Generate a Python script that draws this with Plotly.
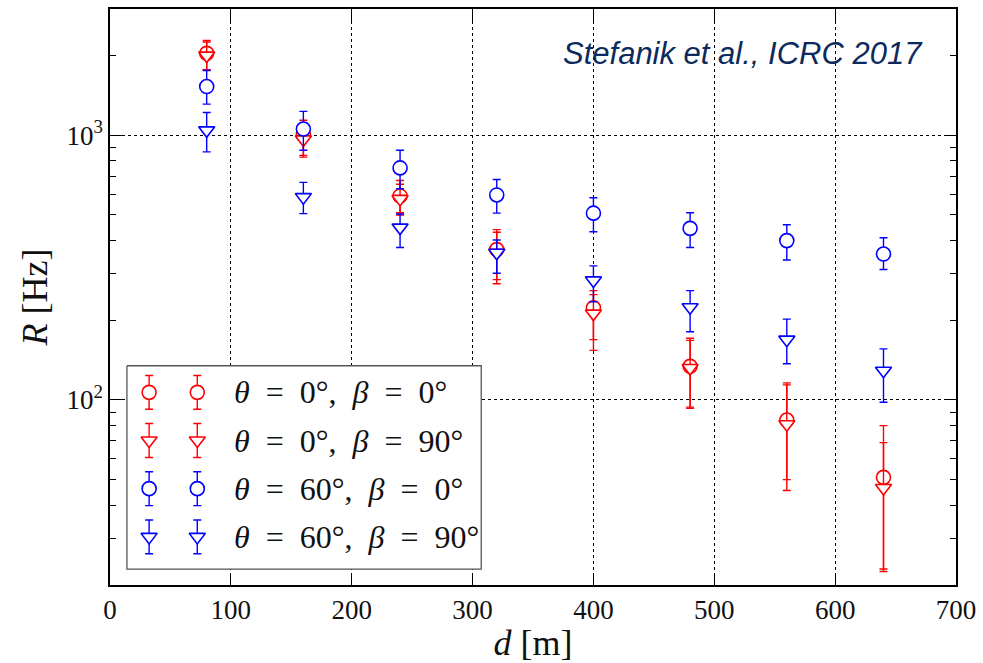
import numpy as np
import plotly.graph_objects as go

# ---------------- data ----------------
distance = [80, 160, 240, 320, 400, 480, 560, 640]

r_t0_b0 = [2040, 1005, 590, 370, 223, 134, 84, 51]
r_t0_b0_hi = [2280, 1140, 675, 440, 259, 171, 116, 80]
r_t0_b0_lo = [1770, 840, 510, 285, 169, 94, 50, 22.5]

r_t0_b90 = [2000, 965, 575, 360, 212, 132, 81, 46.5]
r_t0_b90_hi = [2250, 1110, 653, 430, 250, 168, 114, 69]
r_t0_b90_lo = [1760, 827, 500, 275, 154, 93, 45.5, 23]

r_t60_b0 = [1528, 1056, 753, 595, 508, 445, 400, 356]
r_t60_b0_hi = [1756, 1231, 878, 681, 581, 510, 459, 410]
r_t60_b0_lo = [1311, 878, 628, 508, 432, 377, 338, 311]

r_t60_b90 = [1044, 584, 448, 360, 283, 224, 169, 129]
r_t60_b90_hi = [1220, 664, 504, 402, 321, 259, 202, 156]
r_t60_b90_lo = [866, 506, 377, 301, 235, 181, 137, 98]

NB = "\u00a0"
series_labels = [
    f"<i>θ</i>{NB}{NB}={NB}{NB}0°,{NB}{NB}<i>β</i>{NB}{NB}={NB}{NB}0°",
    f"<i>θ</i>{NB}{NB}={NB}{NB}0°,{NB}{NB}<i>β</i>{NB}{NB}={NB}{NB}90°",
    f"<i>θ</i>{NB}{NB}={NB}{NB}60°,{NB}{NB}<i>β</i>{NB}{NB}={NB}{NB}0°",
    f"<i>θ</i>{NB}{NB}={NB}{NB}60°,{NB}{NB}<i>β</i>{NB}{NB}={NB}{NB}90°",
]
x_ticks = [0, 100, 200, 300, 400, 500, 600, 700]
y_major = [100, 1000]
y_major_text = ["10<sup>2</sup>", "10<sup>3</sup>"]
y_minor = [20, 30, 40, 50, 60, 70, 80, 90, 200, 300, 400, 500, 600, 700, 800, 900, 2000, 3000]

RED = "#ff0000"
BLUE = "#0000ff"
SERIF = "Liberation Serif, DejaVu Serif, serif"

series = [
    (r_t0_b0, r_t0_b0_hi, r_t0_b0_lo, RED, "circle"),
    (r_t0_b90, r_t0_b90_hi, r_t0_b90_lo, RED, "triangle-down"),
    (r_t60_b0, r_t60_b0_hi, r_t60_b0_lo, BLUE, "circle"),
    (r_t60_b90, r_t60_b90_hi, r_t60_b90_lo, BLUE, "triangle-down"),
]

fig = go.Figure()

for (vals, hi, lo, col, sym), lab in zip(series, series_labels):
    v = np.array(vals, float)
    fig.add_trace(go.Scatter(
        x=distance, y=v, mode="markers", name=lab, showlegend=False,
        marker=dict(symbol=sym, size=14, color="white",
                    line=dict(color=col, width=1.6)),
        error_y=dict(type="data", symmetric=False,
                     array=np.array(hi) - v, arrayminus=v - np.array(lo),
                     color=col, thickness=1.4, width=4),
    ))

# ---------------- custom legend (overlay axis in pixel units) ----------------
L_X0, L_X1, L_Y0, L_Y1 = 127, 483, 365, 569
fig.add_trace(go.Scatter(
    x=[L_X0, L_X1, L_X1, L_X0, L_X0], y=[L_Y0, L_Y0, L_Y1, L_Y1, L_Y0],
    xaxis="x2", yaxis="y2", mode="lines", fill="toself",
    fillcolor="white", line=dict(color="#555", width=1.3),
    showlegend=False, hoverinfo="skip"))

row_y = [391.7, 440, 488.3, 536.7]
col_x = [149.3, 197.7]
for (vals, hi, lo, col, sym), ry in zip(series, row_y):
    fig.add_trace(go.Scatter(
        x=col_x, y=[ry, ry], xaxis="x2", yaxis="y2", mode="markers",
        showlegend=False, hoverinfo="skip",
        marker=dict(symbol=sym, size=14, color="white",
                    line=dict(color=col, width=1.6)),
        error_y=dict(type="constant", value=17, color=col, thickness=1.4, width=4),
    ))

annotations = []
for lab, ry in zip(series_labels, row_y):
    annotations.append(dict(
        x=233, y=ry, xref="x2", yref="y2", text=lab, showarrow=False,
        xanchor="left", yanchor="middle",
        font=dict(family=SERIF, size=32, color="#111")))

annotations.append(dict(
    x=0.963, y=0.922, xref="paper", yref="paper",
    text="<i>Stefanik et al., ICRC 2017</i>", showarrow=False,
    xanchor="right", yanchor="middle",
    font=dict(family="Liberation Sans, Arial, sans-serif", size=31, color="#0d2a5c")))

axis_common = dict(
    showline=True, linecolor="black", linewidth=1.5, mirror="allticks",
    ticks="inside", tickcolor="black", tickwidth=1.2,
    showgrid=True, gridcolor="black", gridwidth=1, griddash="dot",
    zeroline=False,
    tickfont=dict(family=SERIF, size=27, color="#111"),
)

fig.update_layout(
    width=983, height=663,
    margin=dict(l=110, r=23, t=7, b=78),
    paper_bgcolor="white", plot_bgcolor="white",
    xaxis=dict(
        range=[0, 700], tickmode="array", tickvals=x_ticks, ticklen=12,
        title=dict(text="<i>d</i> [m]", font=dict(family=SERIF, size=36, color="#111"),
                   standoff=6),
        **axis_common),
    yaxis=dict(
        type="log", range=[np.log10(20), np.log10(3000)],
        tickmode="array", tickvals=y_major, ticktext=y_major_text, ticklen=12,
        minor=dict(tickmode="array", tickvals=y_minor, ticks="inside",
                   ticklen=6, tickcolor="black", tickwidth=1.2, showgrid=False),
        title=dict(text="<i>R</i> [Hz]", font=dict(family=SERIF, size=36, color="#111"),
                   standoff=8),
        **axis_common),
    xaxis2=dict(overlaying="x", range=[110, 960], visible=False, fixedrange=True),
    yaxis2=dict(overlaying="y", range=[585, 7], visible=False, fixedrange=True),
    annotations=annotations,
    showlegend=False,
)

fig.write_html("out.html")
